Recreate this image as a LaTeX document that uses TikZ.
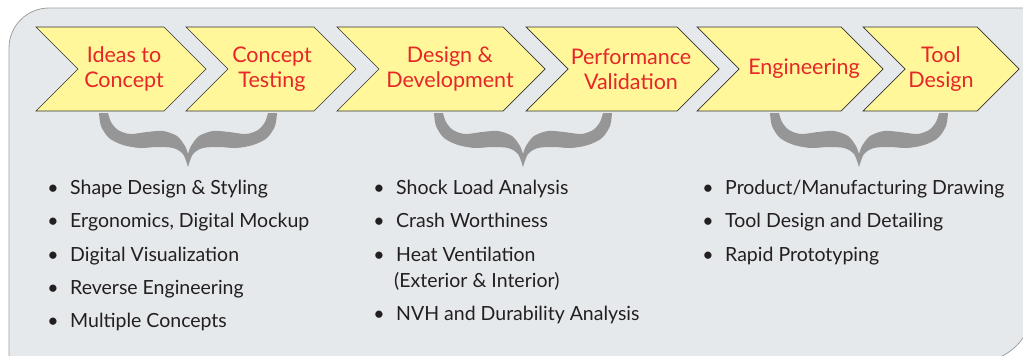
\documentclass[tikz,border=0pt]{standalone}
\usepackage{fontspec}
\setmainfont{Lato}
\definecolor{bgfill}{RGB}{230,233,236}
\definecolor{bgline}{RGB}{160,160,160}
\definecolor{chevfill}{RGB}{255,247,153}
\definecolor{chevline}{RGB}{50,50,50}
\definecolor{headred}{RGB}{230,38,40}
\definecolor{bodytxt}{RGB}{35,31,32}
\definecolor{bracegray}{RGB}{150,150,150}
\tikzset{
  chev/.style={fill=chevfill,draw=chevline,line width=0.7pt},
  headtxt/.style={text=headred,align=center,font=\fontsize{21.5}{25}\selectfont,inner sep=0pt},
  bul/.style={text=bodytxt,font=\fontsize{19.5}{22}\selectfont,inner sep=0pt,anchor=base west},
  bracefill/.style={fill=bracegray}
}
\begin{document}
\begin{tikzpicture}[x=1pt,y=-1pt]
\useasboundingbox (0,0) rectangle (1023,356);
\begin{scope}
\clip (0,0) rectangle (1023,356);
\draw[draw=bgline,fill=bgfill,line width=0.8pt] (9,370) -- (9,48) arc[start angle=180,end angle=270,radius=40] -- (1033,8) -- (1033,306) arc[start angle=0,end angle=90,radius=56] -- (9,362) -- cycle;
\end{scope}
% chevrons: left, tip
\foreach \L/\T/\n in {36/206/1,186/356/2,337/545/3,526/719/4,697/883/5,863/1019/6}{
  \draw[chev] (\L,27) -- ({\T-42},27) -- (\T,69) -- ({\T-42},111) -- (\L,111) -- ({\L+42},69) -- cycle;
}
\node[headtxt] (h1) at (124,69) {Ideas to\\Concept};
\node[headtxt] (h2) at (272,69) {Concept\\Testing};
\node[headtxt] (h3) at (450,69) {Design \&\\Development};
\node[headtxt] (h4) at (631,69) {Performance\\Validation};
\node[headtxt] (h5) at (804,69) {Engineering};
\node[headtxt] (h6) at (941,69) {Tool\\Design};
% braces
\foreach \c in {188,523,859}{
\begin{scope}[xshift=\c pt]
\fill[bracefill] plot[smooth] coordinates {(-89,113) (-87,126) (-79,138) (-65,145) (-48,148) (-31,147) (-15,148) (-5,154) (0,167)}
 -- plot[smooth] coordinates {(0,167) (5,154) (15,148) (31,147) (48,148) (65,145) (79,138) (87,126) (89,113)}
 -- plot[smooth] coordinates {(80,113) (77,122) (70,130) (58,134) (41,132) (25,131) (11,136) (3,146) (0,154)}
 -- plot[smooth] coordinates {(0,154) (-3,146) (-11,136) (-25,131) (-41,132) (-58,134) (-70,130) (-77,122) (-80,113)} -- cycle;
\end{scope}
}
% bullet lists
\foreach \y/\t [count=\i] in {194/Shape Design \& Styling,227/{Ergonomics, Digital Mockup},261/Digital Visualization,294/Reverse Engineering,327/Multiple Concepts}{
  \node[bul] (a\i) at (70,\y) {\t};
  \node[bul,anchor=base] (ab\i) at (53,\y) {•};
}
\foreach \y/\t [count=\i] in {194/Shock Load Analysis,227/Crash Worthiness,261/Heat Ventilation,320/NVH and Durability Analysis}{
  \node[bul] (b\i) at (396,\y) {\t};
  \node[bul,anchor=base] (bb\i) at (379,\y) {•};
}
\node[bul] (b5) at (394,287) {(Exterior \& Interior)};
\foreach \y/\t [count=\i] in {194/{Product/Manufacturing Drawing},227/Tool Design and Detailing,261/Rapid Prototyping}{
  \node[bul] (c\i) at (725,\y) {\t};
  \node[bul,anchor=base] (cb\i) at (708,\y) {•};
}
\end{tikzpicture}
\end{document}
